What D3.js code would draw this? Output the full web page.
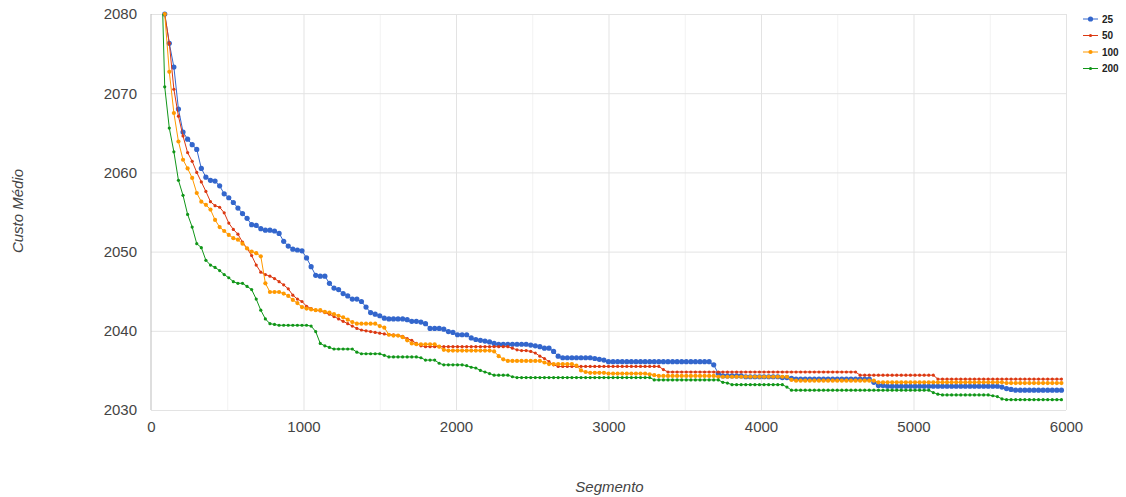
<!DOCTYPE html>
<html>
<head>
<meta charset="utf-8">
<script src="https://cdn.jsdelivr.net/npm/d3@7"></script>
<style>
    body { margin: 0; background: #fff; }
    svg { display: block; font-family: "Liberation Sans", Arial, sans-serif; }
</style>
</head>
<body>
<svg id="chart"></svg>
<script>
// series names as in the legend
const seriesNames = ['25', '50', '100', '200']
const seriesColors = ['#3366cc', '#dc3912', '#ff9900', '#109618']

// one value every 30 segments, starting at segment 60
const firstSegment = 60
const segmentStep = 30

const custo25 = [
    2088, 2080.0, 2076.3, 2073.3, 2068.0, 2065.1, 2064.2, 2063.5, 2062.9, 2060.5,
    2059.4, 2059.0, 2058.9, 2058.3, 2057.3, 2056.8, 2056.2, 2055.5, 2054.8, 2054.2,
    2053.4, 2053.3, 2052.9, 2052.7, 2052.7, 2052.6, 2052.3, 2051.3, 2050.7, 2050.3,
    2050.2, 2050.1, 2049.2, 2048.1, 2047.0, 2046.9, 2046.9, 2046.0, 2045.4, 2045.2,
    2044.7, 2044.4, 2044.0, 2044.0, 2043.7, 2043.0, 2042.3, 2042.1, 2041.9, 2041.6,
    2041.5, 2041.5, 2041.5, 2041.5, 2041.4, 2041.2, 2041.2, 2041.1, 2040.9, 2040.3,
    2040.3, 2040.3, 2040.2, 2039.9, 2039.8, 2039.5, 2039.5, 2039.5, 2039.1, 2038.9,
    2038.8, 2038.7, 2038.6, 2038.4, 2038.3, 2038.3, 2038.3, 2038.3, 2038.3, 2038.3,
    2038.3, 2038.2, 2038.1, 2038.0, 2037.8, 2037.8, 2037.4, 2036.8, 2036.6, 2036.6,
    2036.6, 2036.6, 2036.6, 2036.6, 2036.6, 2036.5, 2036.4, 2036.3, 2036.1, 2036.1,
    2036.1, 2036.1, 2036.1, 2036.1, 2036.1, 2036.1, 2036.1, 2036.1, 2036.1, 2036.1,
    2036.1, 2036.1, 2036.1, 2036.1, 2036.1, 2036.1, 2036.1, 2036.1, 2036.1, 2036.1,
    2036.1, 2035.7, 2034.6, 2034.3, 2034.3, 2034.3, 2034.3, 2034.3, 2034.2, 2034.2,
    2034.2, 2034.2, 2034.2, 2034.2, 2034.2, 2034.2, 2034.1, 2034.1, 2034.0, 2033.9,
    2033.9, 2033.9, 2033.9, 2033.9, 2033.9, 2033.9, 2033.9, 2033.9, 2033.9, 2033.9,
    2033.9, 2033.9, 2033.9, 2033.9, 2033.9, 2033.9, 2033.5, 2033.1, 2033.1, 2033.0,
    2033.0, 2033.0, 2033.0, 2033.0, 2033.0, 2033.0, 2033.0, 2033.0, 2033.0, 2033.0,
    2033.0, 2033.0, 2033.0, 2033.0, 2033.0, 2033.0, 2033.0, 2033.0, 2033.0, 2033.0,
    2033.0, 2033.0, 2033.0, 2033.0, 2032.9, 2032.7, 2032.6, 2032.5, 2032.5, 2032.5,
    2032.5, 2032.5, 2032.5, 2032.5, 2032.5, 2032.5, 2032.5, 2032.5
]

const custo50 = [
    2088, 2080.0, 2076.3, 2070.5, 2067.1, 2064.6, 2062.5, 2061.4, 2060.0, 2058.8,
    2057.6, 2056.3, 2055.8, 2055.6, 2054.9, 2053.6, 2052.8, 2052.2, 2051.2, 2050.4,
    2049.5, 2048.3, 2047.4, 2047.1, 2046.9, 2046.6, 2046.2, 2045.8, 2045.3, 2044.5,
    2044.0, 2043.7, 2043.1, 2042.8, 2042.6, 2042.5, 2042.3, 2042.1, 2041.8, 2041.5,
    2041.2, 2040.9, 2040.6, 2040.3, 2040.1, 2040.0, 2039.9, 2039.8, 2039.7, 2039.6,
    2039.5, 2039.5, 2039.4, 2039.3, 2039.0, 2038.8, 2038.4, 2038.1, 2038.0, 2038.0,
    2038.0, 2038.0, 2038.0, 2038.0, 2038.0, 2038.0, 2038.0, 2038.0, 2038.0, 2038.0,
    2038.0, 2038.0, 2038.0, 2038.0, 2038.0, 2038.0, 2038.0, 2037.8, 2037.6, 2037.5,
    2037.5, 2037.4, 2037.2, 2036.8, 2036.5, 2036.1, 2035.7, 2035.5, 2035.5, 2035.5,
    2035.5, 2035.5, 2035.5, 2035.5, 2035.5, 2035.5, 2035.5, 2035.5, 2035.5, 2035.5,
    2035.5, 2035.5, 2035.5, 2035.5, 2035.5, 2035.5, 2035.5, 2035.5, 2035.5, 2035.5,
    2035.1, 2034.8, 2034.8, 2034.8, 2034.8, 2034.8, 2034.8, 2034.8, 2034.8, 2034.8,
    2034.8, 2034.8, 2034.8, 2034.8, 2034.8, 2034.8, 2034.8, 2034.8, 2034.8, 2034.8,
    2034.8, 2034.8, 2034.8, 2034.8, 2034.8, 2034.8, 2034.8, 2034.8, 2034.8, 2034.8,
    2034.8, 2034.8, 2034.8, 2034.8, 2034.8, 2034.8, 2034.8, 2034.8, 2034.8, 2034.8,
    2034.8, 2034.8, 2034.8, 2034.4, 2034.4, 2034.4, 2034.4, 2034.4, 2034.4, 2034.4,
    2034.4, 2034.4, 2034.4, 2034.4, 2034.4, 2034.4, 2034.4, 2034.4, 2034.4, 2034.4,
    2033.9, 2033.9, 2033.9, 2033.9, 2033.9, 2033.9, 2033.9, 2033.9, 2033.9, 2033.9,
    2033.9, 2033.9, 2033.9, 2033.9, 2033.9, 2033.9, 2033.9, 2033.9, 2033.9, 2033.9,
    2033.9, 2033.9, 2033.9, 2033.9, 2033.9, 2033.9, 2033.9, 2033.9
]

const custo100 = [
    2088, 2080.0, 2072.7, 2067.5, 2063.9, 2061.6, 2060.5, 2059.3, 2057.4, 2056.3,
    2055.9, 2055.3, 2054.0, 2053.1, 2052.6, 2052.1, 2051.7, 2051.5, 2051.0, 2050.4,
    2050.0, 2049.8, 2049.4, 2046.0, 2044.9, 2044.9, 2044.9, 2044.7, 2044.4, 2043.9,
    2043.5, 2043.0, 2042.8, 2042.7, 2042.6, 2042.6, 2042.4, 2042.3, 2042.1, 2041.9,
    2041.7, 2041.4, 2041.1, 2040.9, 2040.9, 2040.9, 2040.9, 2040.9, 2040.6, 2040.4,
    2039.5, 2039.4, 2039.4, 2039.2, 2038.8, 2038.4, 2038.3, 2038.3, 2038.3, 2038.3,
    2038.3, 2038.0, 2037.6, 2037.5, 2037.5, 2037.5, 2037.5, 2037.5, 2037.5, 2037.5,
    2037.5, 2037.5, 2037.5, 2037.4, 2036.8, 2036.4, 2036.2, 2036.2, 2036.2, 2036.2,
    2036.2, 2036.2, 2036.2, 2036.2, 2036.0, 2035.8, 2035.8, 2035.8, 2035.8, 2035.8,
    2035.8, 2035.6, 2035.0, 2034.8, 2034.7, 2034.7, 2034.7, 2034.7, 2034.6, 2034.6,
    2034.6, 2034.6, 2034.6, 2034.6, 2034.6, 2034.6, 2034.6, 2034.5, 2034.4, 2034.3,
    2034.3, 2034.3, 2034.3, 2034.3, 2034.3, 2034.3, 2034.3, 2034.3, 2034.3, 2034.3,
    2034.3, 2034.3, 2034.2, 2034.2, 2034.2, 2034.2, 2034.2, 2034.2, 2034.2, 2034.2,
    2034.2, 2034.2, 2034.2, 2034.2, 2034.2, 2034.2, 2034.2, 2034.2, 2033.8, 2033.7,
    2033.7, 2033.7, 2033.7, 2033.7, 2033.7, 2033.7, 2033.7, 2033.7, 2033.7, 2033.7,
    2033.7, 2033.7, 2033.7, 2033.7, 2033.7, 2033.7, 2033.7, 2033.5, 2033.5, 2033.5,
    2033.5, 2033.5, 2033.5, 2033.5, 2033.5, 2033.5, 2033.5, 2033.5, 2033.5, 2033.5,
    2033.5, 2033.5, 2033.5, 2033.5, 2033.5, 2033.5, 2033.5, 2033.5, 2033.5, 2033.5,
    2033.5, 2033.5, 2033.5, 2033.5, 2033.5, 2033.4, 2033.4, 2033.4, 2033.4, 2033.4,
    2033.4, 2033.4, 2033.4, 2033.4, 2033.4, 2033.4, 2033.4, 2033.4
]

const custo200 = [
    2092, 2070.8, 2065.6, 2062.6, 2059.0, 2057.1, 2054.7, 2053.1, 2051.0, 2050.5,
    2048.9, 2048.3, 2048.0, 2047.6, 2047.1, 2046.7, 2046.2, 2046.0, 2046.0, 2045.6,
    2045.2, 2044.0, 2042.6, 2041.5, 2040.9, 2040.8, 2040.7, 2040.7, 2040.7, 2040.7,
    2040.7, 2040.7, 2040.7, 2040.6, 2039.9, 2038.4, 2038.1, 2037.9, 2037.7, 2037.7,
    2037.7, 2037.7, 2037.7, 2037.3, 2037.1, 2037.1, 2037.1, 2037.1, 2037.1, 2036.9,
    2036.7, 2036.7, 2036.7, 2036.7, 2036.7, 2036.7, 2036.7, 2036.6, 2036.3, 2036.3,
    2036.3, 2035.9, 2035.7, 2035.7, 2035.7, 2035.7, 2035.7, 2035.6, 2035.4, 2035.3,
    2035.0, 2034.8, 2034.6, 2034.4, 2034.4, 2034.4, 2034.4, 2034.2, 2034.1, 2034.1,
    2034.1, 2034.1, 2034.1, 2034.1, 2034.1, 2034.1, 2034.1, 2034.1, 2034.1, 2034.1,
    2034.1, 2034.1, 2034.1, 2034.1, 2034.1, 2034.1, 2034.1, 2034.1, 2034.1, 2034.1,
    2034.1, 2034.1, 2034.1, 2034.1, 2034.1, 2034.1, 2034.1, 2034.1, 2033.8, 2033.8,
    2033.8, 2033.8, 2033.8, 2033.8, 2033.8, 2033.8, 2033.8, 2033.8, 2033.8, 2033.8,
    2033.8, 2033.8, 2033.8, 2033.5, 2033.4, 2033.2, 2033.2, 2033.2, 2033.2, 2033.2,
    2033.2, 2033.2, 2033.2, 2033.2, 2033.2, 2033.2, 2033.2, 2032.9, 2032.5, 2032.5,
    2032.5, 2032.5, 2032.5, 2032.5, 2032.5, 2032.5, 2032.5, 2032.5, 2032.5, 2032.5,
    2032.5, 2032.5, 2032.5, 2032.5, 2032.5, 2032.5, 2032.5, 2032.5, 2032.5, 2032.5,
    2032.5, 2032.5, 2032.5, 2032.5, 2032.5, 2032.5, 2032.5, 2032.5, 2032.5, 2032.2,
    2032.0, 2031.9, 2031.9, 2031.9, 2031.9, 2031.9, 2031.9, 2031.9, 2031.9, 2031.9,
    2031.9, 2031.9, 2031.8, 2031.7, 2031.4, 2031.3, 2031.3, 2031.3, 2031.3, 2031.3,
    2031.3, 2031.3, 2031.3, 2031.3, 2031.3, 2031.3, 2031.3, 2031.3
]

const seriesValues = [custo25, custo50, custo100, custo200]
const markerRadius = [2.6, 1.6, 2.1, 1.6]

const xTicks = [0, 1000, 2000, 3000, 4000, 5000, 6000]
const xMinorTicks = [500, 1500, 2500, 3500, 4500, 5500]
const yTicks = [2030, 2040, 2050, 2060, 2070, 2080]

class LineChart {
    constructor(_config) {
        this.config = {
            parentElement: _config.parentElement,
            containerWidth: 1126,
            containerHeight: 497,
            margin: {top: 14, right: 60, bottom: 87, left: 151},
        }
        this.initVis()
    }

    initVis() {
        let vis = this
        vis.width = vis.config.containerWidth - vis.config.margin.left - vis.config.margin.right
        vis.height = vis.config.containerHeight - vis.config.margin.top - vis.config.margin.bottom

        vis.svg = d3.select(vis.config.parentElement)
            .attr('width', vis.config.containerWidth)
            .attr('height', vis.config.containerHeight)

        vis.chart = vis.svg.append('g')
            .attr('transform', `translate(${vis.config.margin.left}, ${vis.config.margin.top})`)

        vis.xScale = d3.scaleLinear().domain([0, 6000]).range([0, vis.width])
        vis.yScale = d3.scaleLinear().domain([2030, 2080]).range([vis.height, 0])

        // lines are cut at the plot edge, markers get a little room
        const defs = vis.svg.append('defs')
        defs.append('clipPath').attr('id', 'clip-lines')
            .append('rect').attr('width', vis.width).attr('height', vis.height)
        defs.append('clipPath').attr('id', 'clip-points')
            .append('rect').attr('x', -4).attr('y', -3).attr('width', vis.width + 8).attr('height', vis.height + 6)

        vis.renderGrid()
        vis.renderAxes()
        vis.renderVis()
        vis.renderLegend()
    }

    renderGrid() {
        let vis = this
        vis.chart.append('g')
            .attr('class', 'minor-grid')
            .call(d3.axisBottom(vis.xScale).tickValues(xMinorTicks).tickSize(-vis.height).tickFormat(''))
            .attr('transform', `translate(0, ${vis.height})`)
            .call(g => g.select('.domain').remove())
            .selectAll('line').attr('stroke', '#f2f2f2')

        vis.chart.append('g')
            .attr('class', 'x-grid')
            .attr('transform', `translate(0, ${vis.height})`)
            .call(d3.axisBottom(vis.xScale).tickValues(xTicks.slice(1)).tickSize(-vis.height).tickFormat(''))
            .call(g => g.select('.domain').remove())
            .selectAll('line').attr('stroke', '#e3e3e3')

        vis.chart.append('g')
            .attr('class', 'y-grid')
            .call(d3.axisLeft(vis.yScale).tickValues(yTicks).tickSize(-vis.width).tickFormat(''))
            .call(g => g.select('.domain').remove())
            .selectAll('line').attr('stroke', '#e3e3e3')

        // baseline at segment 0
        vis.chart.append('line')
            .attr('x1', vis.xScale(0)).attr('x2', vis.xScale(0))
            .attr('y1', 0).attr('y2', vis.height)
            .attr('stroke', '#bdbdbd')
    }

    renderAxes() {
        let vis = this
        const xAxisG = vis.chart.append('g')
            .attr('transform', `translate(0, ${vis.height})`)
            .call(d3.axisBottom(vis.xScale).tickValues(xTicks).tickSize(0).tickPadding(11).tickFormat(d3.format('d')))
        const yAxisG = vis.chart.append('g')
            .call(d3.axisLeft(vis.yScale).tickValues(yTicks).tickSize(0).tickPadding(14).tickFormat(d3.format('d')))

        for (const g of [xAxisG, yAxisG]) {
            g.select('.domain').remove()
            g.selectAll('text')
                .attr('fill', '#444')
                .style('font-size', '15px')
                .style('font-family', '"Liberation Sans", Arial, sans-serif')
        }

        vis.svg.append('text')
            .text('Segmento')
            .attr('x', vis.config.margin.left + vis.xScale(3000) + 1)
            .attr('y', 492)
            .attr('text-anchor', 'middle')
            .attr('fill', '#444')
            .style('font-style', 'italic')
            .style('font-size', '15px')

        vis.svg.append('text')
            .text('Custo Médio')
            .attr('transform', `translate(23, ${vis.config.margin.top + vis.yScale(2055) - 1}) rotate(-90)`)
            .attr('text-anchor', 'middle')
            .attr('fill', '#444')
            .style('font-style', 'italic')
            .style('font-size', '15px')
    }

    renderVis() {
        let vis = this
        const line = d3.line()
            .x((d, i) => vis.xScale(firstSegment + i * segmentStep))
            .y(d => vis.yScale(d))

        seriesValues.forEach((values, s) => {
            const g = vis.chart.append('g').attr('class', 'series-' + seriesNames[s])

            g.append('path')
                .datum(values)
                .attr('clip-path', 'url(#clip-lines)')
                .attr('fill', 'none')
                .attr('stroke', seriesColors[s])
                .attr('stroke-width', 1)
                .attr('d', line)

            g.append('g')
                .attr('clip-path', 'url(#clip-points)')
                .selectAll('circle')
                .data(values.map((v, i) => ({seg: firstSegment + i * segmentStep, value: v})))
                .join('circle')
                .filter(d => d.value <= 2080)
                .attr('cx', d => vis.xScale(d.seg))
                .attr('cy', d => vis.yScale(d.value))
                .attr('r', markerRadius[s])
                .attr('fill', seriesColors[s])
        })
    }

    renderLegend() {
        let vis = this
        const legend = vis.svg.append('g')
            .attr('transform', 'translate(1083, 19)')

        const item = legend.selectAll('.legend-item')
            .data(seriesNames)
            .join('g')
            .attr('class', 'legend-item')
            .attr('transform', (d, i) => `translate(0, ${i * 16.5})`)

        item.append('line')
            .attr('x1', 0).attr('x2', 15)
            .attr('stroke', (d, i) => seriesColors[i])
        item.append('circle')
            .attr('cx', 7.5)
            .attr('r', (d, i) => markerRadius[i])
            .attr('fill', (d, i) => seriesColors[i])
        item.append('text')
            .text(d => d)
            .attr('x', 19)
            .attr('dy', '0.35em')
            .attr('fill', '#222')
            .style('font-size', '10px')
            .style('font-weight', 'bold')
    }
}

new LineChart({parentElement: '#chart'})
</script>
</body>
</html>
